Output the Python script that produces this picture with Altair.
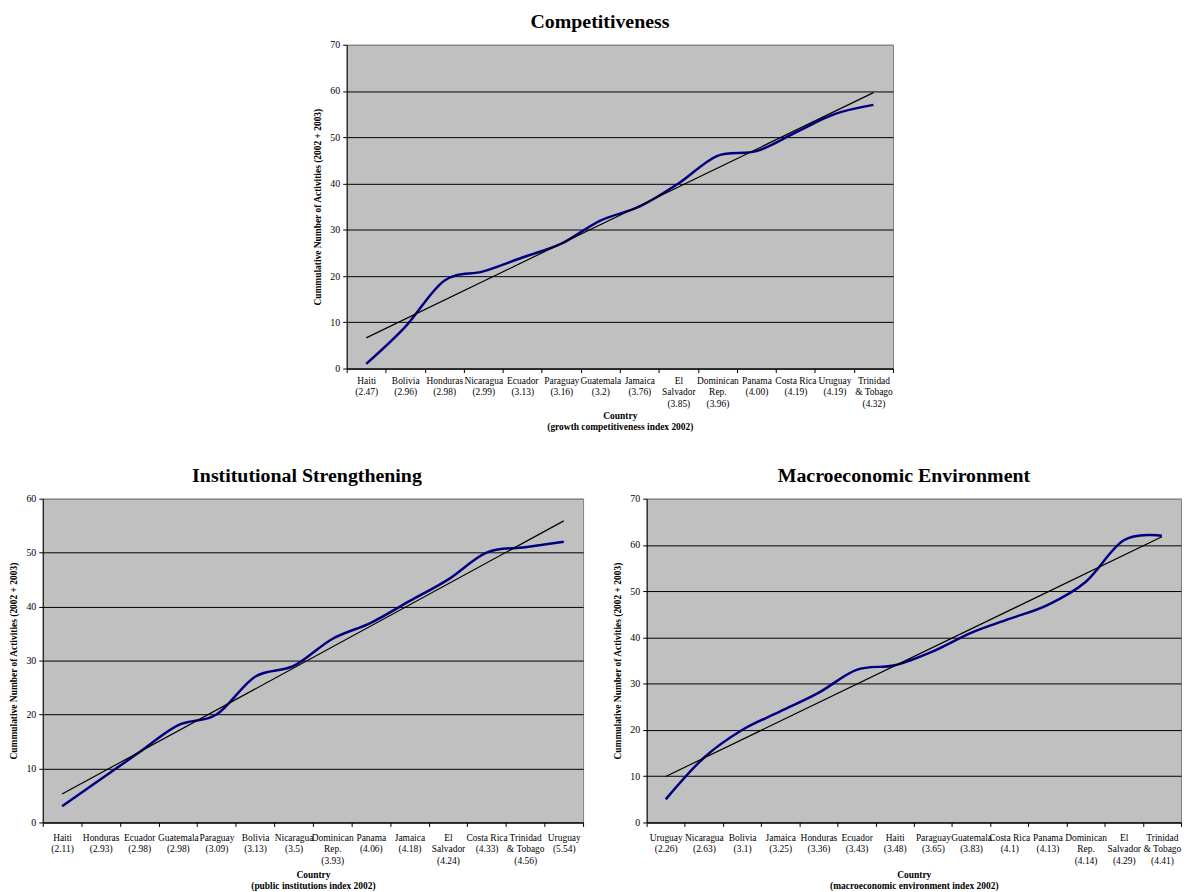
import altair as alt
import pandas as pd

# ---- data ----
comp_labels = ["Haiti\n(2.47)", "Bolivia\n(2.96)", "Honduras\n(2.98)", "Nicaragua\n(2.99)",
               "Ecuador\n(3.13)", "Paraguay\n(3.16)", "Guatemala\n(3.2)", "Jamaica\n(3.76)",
               "El\nSalvador\n(3.85)", "Dominican\nRep.\n(3.96)", "Panama\n(4.00)",
               "Costa Rica\n(4.19)", "Uruguay\n(4.19)", "Trinidad\n& Tobago\n(4.32)"]
comp_values = [1, 9, 19, 21, 24, 27, 32, 35, 40, 46, 47, 51, 55, 57]

inst_labels = ["Haiti\n(2.11)", "Honduras\n(2.93)", "Ecuador\n(2.98)", "Guatemala\n(2.98)",
               "Paraguay\n(3.09)", "Bolivia\n(3.13)", "Nicaragua\n(3.5)", "Dominican\nRep.\n(3.93)",
               "Panama\n(4.06)", "Jamaica\n(4.18)", "El\nSalvador\n(4.24)", "Costa Rica\n(4.33)",
               "Trinidad\n& Tobago\n(4.56)", "Uruguay\n(5.54)"]
inst_values = [3, 8, 13, 18, 20, 27, 29, 34, 37, 41, 45, 50, 51, 52]

macro_labels = ["Uruguay\n(2.26)", "Nicaragua\n(2.63)", "Bolivia\n(3.1)", "Jamaica\n(3.25)",
                "Honduras\n(3.36)", "Ecuador\n(3.43)", "Haiti\n(3.48)", "Paraguay\n(3.65)",
                "Guatemala\n(3.83)", "Costa Rica\n(4.1)", "Panama\n(4.13)", "Dominican\nRep.\n(4.14)",
                "El\nSalvador\n(4.29)", "Trinidad\n& Tobago\n(4.41)"]
macro_values = [5, 14, 20, 24, 28, 33, 34, 37, 41, 44, 47, 52, 61, 62]

Y_TITLE = "Cummulative Number of Activities (2002 + 2003)"
FONT = "Liberation Serif"


def panel(labels, values, title, xtitle, ymax, width, height=326,
          label_pad=3, title_pad=3, title_offset=10, title_dx=0):
    df = pd.DataFrame({"label": labels, "idx": list(range(len(labels))), "value": values})
    x = alt.X(
        "label:N",
        scale=alt.Scale(type="band", domain=labels, paddingInner=0, paddingOuter=0),
        axis=alt.Axis(
            title=xtitle,
            labelExpr="isString(datum.value) ? split(datum.value, '\\n') : ''",
            tickBand="extent",
            labelAngle=0,
            labelOverlap=False,
            labelBound=False,
            labelFontSize=9.5,
            labelLineHeight=11.5,
            labelPadding=label_pad,
            labelBaseline="top",
            tickSize=4,
            titleFontSize=9.5,
            titleLineHeight=10.5,
            titlePadding=title_pad,
            grid=False,
        ),
    )
    y = alt.Y(
        "value:Q",
        scale=alt.Scale(domain=[0, ymax], nice=False),
        axis=alt.Axis(
            title=Y_TITLE,
            values=list(range(0, ymax + 1, 10)),
            grid=True,
            gridColor={"condition": {"test": f"datum.value >= {ymax}", "value": "#808080"},
                       "value": "black"},
            gridWidth=1,
            labelFontSize=10,
            labelPadding=3,
            tickSize=4,
            titleFontSize=9.5,
            titlePadding=7,
        ),
    )
    line = alt.Chart(df).mark_line(color="#000080", strokeWidth=2.5,
                                   interpolate="cardinal").encode(x=x, y=y)
    trend = (
        alt.Chart(df)
        .transform_regression(on="idx", regression="value", method="linear")
        .transform_lookup(lookup="idx", from_=alt.LookupData(df, "idx", ["label"]))
        .mark_line(color="black", strokeWidth=1.2)
        .encode(x=x, y=y)
    )
    return alt.layer(line, trend).properties(
        width=width,
        height=height,
        title=alt.TitleParams(text=title, fontSize=20, font=FONT, fontWeight="bold",
                              anchor="middle", offset=title_offset, color="black",
                              dx=title_dx),
    )


top = panel(comp_labels, comp_values, "Competitiveness",
            ["Country", "(growth competitiveness index 2002)"], 70, 550,
            label_pad=3, title_pad=3, title_offset=8, title_dx=-20)
left = panel(inst_labels, inst_values, "Institutional Strengthening",
             ["Country", "(public institutions index 2002)"], 60, 544,
             label_pad=6, title_pad=5, title_offset=8, title_dx=-6)
right = panel(macro_labels, macro_values, "Macroeconomic Environment",
              ["Country", "(macroeconomic environment index 2002)"], 70, 538,
              label_pad=6, title_pad=5, title_offset=8, title_dx=-10)

spacer = (
    alt.Chart(pd.DataFrame({"a": [0]}))
    .mark_rect(opacity=0)
    .encode(x=alt.value(0), x2=alt.value(1), y=alt.value(0), y2=alt.value(1))
    .properties(width=270, height=10,
                view=alt.ViewBackground(fill="transparent", stroke="transparent"))
)

chart = (
    alt.vconcat(
        alt.hconcat(spacer, top, spacing=0),
        alt.hconcat(left, right, spacing=28),
        spacing=34,
    )
    .properties(padding={"left": 0, "top": 0, "right": 0, "bottom": 0})
    .configure_axis(labelFont=FONT, titleFont=FONT, labelColor="black", titleColor="black",
                    domainColor="black", tickColor="black", titleFontWeight="bold")
    .configure_view(fill="#c0c0c0", stroke="#808080")
)

chart.save("out.html", embed_options={"renderer": "svg", "actions": False})
